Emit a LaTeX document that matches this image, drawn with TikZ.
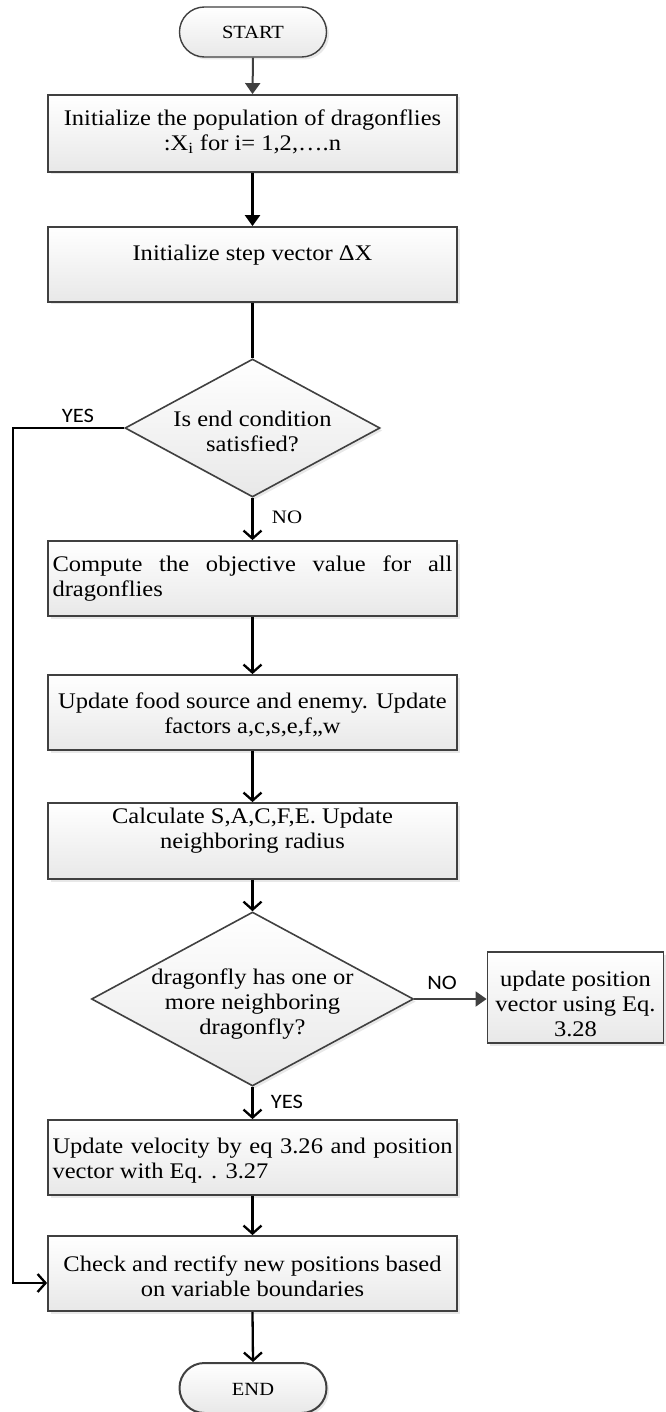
\documentclass[tikz,border=0pt]{standalone}
\usepackage{fontspec}
\setmainfont{Liberation Serif}[FakeStretch=1.1]
\newfontfamily\lblsans{Carlito}[FakeStretch=1.1]
\usetikzlibrary{shapes.geometric,arrows.meta,shadows}
\definecolor{bordergray}{HTML}{404040}
\definecolor{boxbottom}{HTML}{E8E8E8}
\definecolor{shadowgray}{HTML}{D2D2D2}
\begin{document}
\begin{tikzpicture}[x=1pt,y=-1pt,
  boxfill/.style={draw=bordergray, line width=1.8pt, top color=white, bottom color=boxbottom,
    drop shadow={shadow xshift=2.5pt,shadow yshift=-2.5pt,fill=shadowgray}},
  procbox/.style={boxfill, rectangle, minimum width=409pt, minimum height=75pt, inner sep=0pt},
  sidebox/.style={boxfill, rectangle, minimum width=176pt, minimum height=91pt, inner sep=0pt},
  decbox/.style={boxfill, diamond, inner sep=0pt, line width=1.6pt},
  termbox/.style={boxfill, rectangle, rounded corners=24.9pt, minimum width=147pt, minimum height=50pt, inner sep=0pt, line width=1.4pt},
  mtext/.style={font=\fontsize{22.3}{25}\selectfont, align=center, inner sep=0pt},
  jtext/.style={font=\fontsize{22.3}{25}\selectfont, text width=400pt, align=justify, inner sep=0pt},
  ttext/.style={font=\fontsize{18.6}{22}\selectfont, inner sep=0pt},
  serlbl/.style={font=\fontsize{19}{22}\selectfont, inner sep=0pt},
  sanslbl/.style={font=\lblsans\fontsize{20.5}{24}\selectfont, inner sep=0pt},
  grayarr/.style={draw=bordergray, line width=2pt, -{Triangle[length=11pt,width=15pt]}},
  blackfill/.style={draw=black, line width=2.4pt, -{Triangle[length=11pt,width=15pt]}},
  openarr/.style={draw=black, line width=2.3pt, -{Straight Barb[length=8pt,width=18pt]}},
  plainline/.style={draw=black, line width=2.4pt}
]
\useasboundingbox (0,0) rectangle (665,1412);

% shapes
\node[termbox] (start) at (253,32) {};
\node[procbox, minimum height=77pt] (b1) at (252.5,133.5) {};
\node[procbox] (b2) at (252.5,264.5) {};
\node[decbox, minimum width=255pt, minimum height=138pt] (d1) at (252.5,428) {};
\node[procbox] (b3) at (252.5,578.5) {};
\node[procbox] (b4) at (252.5,712.5) {};
\node[procbox, minimum height=76pt] (b5) at (252.5,841) {};
\node[decbox, minimum width=322pt, minimum height=174pt] (d2) at (252.5,999) {};
\node[sidebox] (rb) at (575.5,997.5) {};
\node[procbox] (b6) at (252.5,1157.5) {};
\node[procbox] (b7) at (252.5,1273.5) {};
\node[termbox, line width=2pt] (endt) at (253,1388) {};

% texts
\node[ttext] (tstart) at (253,32) {START};
\node[mtext] (t1) at (252.5,131.5) {Initialize the population of dragonflies\\:X\textsubscript{i} for i= 1,2,….n};
\node[mtext] (t2) at (252.5,255) {Initialize step vector ΔX};
\node[mtext] (td1) at (252.5,431.5) {Is end condition\\satisfied?};
\node[jtext] (t3) at (252.5,578.5) {Compute the objective value for all\linebreak dragonflies};
\node[mtext] (t4) at (252.5,715) {Update food source and enemy. Update\\factors a,c,s,e,f,,w};
\node[mtext] (t5) at (252.5,831) {Calculate S,A,C,F,E. Update\\neighboring radius};
\node[mtext] (td2) at (252.5,1004) {dragonfly has one or\\more neighboring\\dragonfly?};
\node[mtext] (trb) at (575.5,1004) {update position\\vector using Eq.\\3.28};
\node[jtext] (t6) at (252.5,1160.5) {Update velocity by eq 3.26 and position\linebreak vector with Eq. . 3.27};
\node[mtext] (t7) at (252.5,1276.5) {Check and rectify new positions based\\on variable boundaries};
\node[ttext] (tend) at (253,1389) {END};

% labels
\node[sanslbl] (yes1) at (78,416) {YES};
\node[serlbl] (no1) at (287,517) {NO};
\node[sanslbl] (no2) at (442,983) {NO};
\node[sanslbl] (yes2) at (287,1102) {YES};

% connectors
\draw[grayarr] (start.south) -- (b1.north);
\draw[blackfill] (b1.south) -- (b2.north);
\draw[plainline] (b2.south) -- (d1.north);
\draw[openarr] (d1.south) -- (b3.north);
\draw[openarr] (b3.south) -- (b4.north);
\draw[openarr] (b4.south) -- (b5.north);
\draw[openarr] (b5.south) -- (d2.north);
\draw[grayarr] (d2.east) -- (d2.east -| rb.west);
\draw[openarr] (d2.south) -- (b6.north);
\draw[openarr] (b6.south) -- (b7.north);
\draw[openarr] (b7.south) -- (endt.north);
\coordinate (lp1) at (13,428);
\coordinate (lp2) at (13,1283);
\draw[openarr] (d1.west) -- (lp1) -- (lp2) -- (lp2 -| b7.west);
\end{tikzpicture}
\end{document}
